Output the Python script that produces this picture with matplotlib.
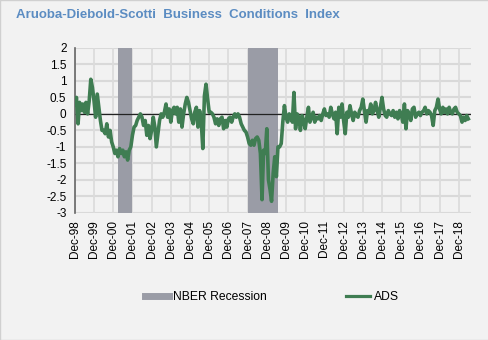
import matplotlib
matplotlib.use("Agg")
import matplotlib.pyplot as plt
from matplotlib.lines import Line2D
import pandas as pd

plt.rcParams['font.family'] = ['Liberation Sans', 'DejaVu Sans']

# ADS index, monthly, Dec-1998 .. Jun-2019
ads_1998 = [0.27]
ads_1999 = [0.5, -0.3, 0.35, 0.1, 0.3, 0.05, 0.35, 0.0, 0.4, 1.05, 0.8, 0.4]
ads_2000 = [-0.1, 0.6, 0.2, -0.2, -0.5, -0.5, -0.6, -0.3, -0.7, -0.5, -0.85, -1.0]
ads_2001 = [-1.2, -1.1, -1.3, -1.05, -1.2, -1.1, -1.3, -1.15, -1.4, -1.1, -1.0, -0.65]
ads_2002 = [-0.4, -0.35, -0.2, -0.1, 0.0, -0.1, -0.35, -0.2, -0.65, -0.35, -0.75, -0.5]
ads_2003 = [-0.1, -0.4, -1.0, -0.6, -0.2, 0.0, -0.1, 0.05, 0.3, -0.1, 0.15, -0.25]
ads_2004 = [0.1, 0.2, 0.0, 0.2, -0.25, 0.15, -0.4, 0.0, 0.3, 0.5, 0.35, 0.1]
ads_2005 = [-0.15, -0.3, 0.05, 0.2, -0.4, 0.1, -0.2, -1.05, 0.55, 0.9, 0.45, 0.05]
ads_2006 = [0.05, 0.0, -0.1, -0.3, -0.15, -0.35, -0.15, -0.1, -0.45, -0.2, -0.4, -0.15]
ads_2007 = [-0.1, -0.25, -0.1, 0.0, -0.1, 0.0, -0.1, -0.3, -0.4, -0.5, -0.55, -0.7]
ads_2008 = [-0.9, -0.95, -0.8, -0.95, -0.75, -0.7, -0.8, -1.2, -2.6, -1.1, -1.2, -0.45]
ads_2009 = [-2.0, -2.3, -2.65, -1.8, -1.3, -1.9, -1.0, -1.0, -0.9, -0.25, 0.25, -0.1]
ads_2010 = [-0.25, 0.0, -0.1, -0.25, 0.65, -0.45, 0.0, -0.1, -0.5, -0.05, -0.2, -0.45]
ads_2011 = [-0.1, 0.2, -0.25, -0.1, 0.05, -0.25, -0.1, -0.15, -0.05, -0.2, 0.0, 0.15]
ads_2012 = [-0.05, 0.0, -0.1, 0.2, 0.0, -0.15, 0.05, -0.6, 0.2, -0.1, 0.3, -0.2]
ads_2013 = [-0.6, 0.05, -0.1, 0.25, 0.0, -0.2, 0.05, -0.05, -0.1, 0.1, 0.2, 0.45]
ads_2014 = [0.1, -0.25, 0.1, 0.05, 0.3, 0.0, 0.1, 0.35, 0.1, -0.1, 0.2, 0.5]
ads_2015 = [0.15, -0.05, -0.1, 0.1, 0.0, -0.05, 0.1, -0.1, 0.05, -0.15, 0.1, 0.0]
ads_2016 = [-0.25, 0.3, -0.45, 0.1, 0.0, -0.2, 0.15, 0.2, -0.1, 0.0, 0.05, -0.05]
ads_2017 = [0.05, 0.1, 0.2, 0.0, 0.1, 0.05, -0.05, -0.35, 0.1, 0.2, 0.45, 0.15]
ads_2018 = [0.0, 0.2, 0.05, 0.15, 0.0, 0.2, 0.05, 0.0, 0.15, 0.2, 0.05, 0.0]
ads_2019 = [-0.05, -0.25, -0.1, -0.2, -0.05, -0.15]

ads = (ads_1998 + ads_1999 + ads_2000 + ads_2001 + ads_2002 + ads_2003 + ads_2004
       + ads_2005 + ads_2006 + ads_2007 + ads_2008 + ads_2009 + ads_2010 + ads_2011
       + ads_2012 + ads_2013 + ads_2014 + ads_2015 + ads_2016 + ads_2017 + ads_2018
       + ads_2019)
dates = pd.date_range('1998-12-01', periods=len(ads), freq='MS')

recessions = [('2001-03-01', '2001-11-30'), ('2007-12-01', '2009-06-30')]
tick_dates = pd.date_range('1998-12-01', '2018-12-01', freq='12MS')
tick_labels = [d.strftime('Dec-%y') for d in tick_dates]
yticks = [2, 1.5, 1, 0.5, 0, -0.5, -1, -1.5, -2, -2.5, -3]

bg = '#f2f2f2'
fig = plt.figure(figsize=(4.89, 3.40), dpi=100, facecolor=bg)
ax = fig.add_axes([0.153, 0.374, 0.81, 0.485])
ax.set_facecolor(bg)

rec_color = '#9a9ca6'
for s, e in recessions:
    ax.axvspan(pd.Timestamp(s), pd.Timestamp(e), color=rec_color, lw=0, zorder=1)

for yv in yticks:
    ax.axhline(yv, color='#d9d9d9', lw=1.5, zorder=0)
for d in tick_dates:
    ax.axvline(d, color='#dcdcdc', lw=1.3, zorder=0)
ax.axhline(0, color='#222222', lw=0.9, zorder=2)

line_color = '#3f7d52'
ax.plot(dates, ads, color=line_color, lw=2.6, zorder=3, solid_joinstyle='round')

ax.set_xlim(pd.Timestamp('1998-12-01'), pd.Timestamp('2019-07-20'))
ax.set_ylim(-3, 2)
ax.set_yticks(yticks)
ax.set_yticklabels([('%g' % v) for v in yticks])
ax.set_xticks(tick_dates)
ax.set_xticklabels(tick_labels, rotation=90)
ax.tick_params(axis='both', length=0, labelsize=8.5, colors='black')
ax.tick_params(axis='y', pad=6)
ax.tick_params(axis='x', pad=5)
for sp in ['top', 'right', 'bottom']:
    ax.spines[sp].set_visible(False)
ax.spines['left'].set_color('#666666')
ax.spines['left'].set_linewidth(1.2)

fig.text(0.033, 0.955, 'Aruoba-Diebold-Scotti  Business  Conditions  Index',
         fontsize=9.5, fontweight='bold', color='#5b8cc2', ha='left', va='center')

handles = [Line2D([0], [0], color=rec_color, lw=5),
           Line2D([0], [0], color=line_color, lw=2.3)]
fig.legend(handles, ['NBER Recession', 'ADS'], loc='center', ncol=2,
           bbox_to_anchor=(0.556, 0.127), frameon=False, columnspacing=6.6,
           handlelength=2.0, handletextpad=0.3, fontsize=8.7)

fig.patches.append(plt.Rectangle((0, 0), 1, 1, transform=fig.transFigure,
                                 fill=False, edgecolor='#d0d0d0', lw=1))
fig.savefig('out.png', dpi=100, facecolor=bg)
